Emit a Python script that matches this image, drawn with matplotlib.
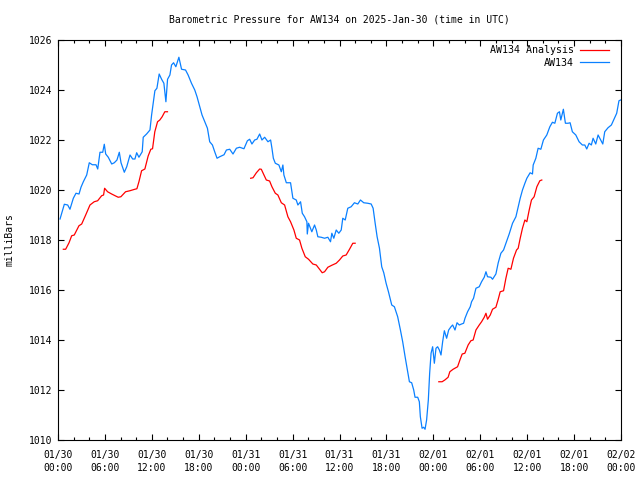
import numpy as np
import matplotlib
matplotlib.use("Agg")
import matplotlib.pyplot as plt
from matplotlib.ticker import MultipleLocator

# hours since 2025-01-30 00:00 UTC, pressure in mbar
aw_hours = [0.26, 0.81, 1.24, 1.53, 1.96, 2.30, 2.69, 2.94, 3.24, 3.67, 4.00, 4.39, 4.86, 5.08,
            5.37, 5.72, 5.92, 6.10, 6.43, 6.87, 7.20, 7.54, 7.84, 8.06, 8.48, 8.79, 9.21, 9.55,
            9.84, 10.06, 10.35, 10.77, 10.90, 11.33, 11.76, 11.97, 12.39, 12.65, 12.94, 13.25,
            13.54, 13.80, 14.01, 14.31, 14.52, 14.78, 15.07, 15.46, 15.80, 16.31, 16.64, 17.07,
            17.49, 17.78, 18.13, 18.42, 18.77, 19.11, 19.40, 19.75, 20.04, 20.34, 20.68, 21.23,
            21.54, 21.96, 22.38, 22.81, 23.23, 23.78, 24.22, 24.51, 24.80, 25.15, 25.44, 25.79,
            26.08, 26.43, 26.85, 27.19, 27.36, 27.54, 27.79, 28.25, 28.56, 28.76, 28.89, 29.20,
            29.74, 30.04, 30.47, 30.68, 31.02, 31.24, 31.53, 31.83, 31.88, 32.04, 32.46, 32.81,
            33.03, 33.23, 33.66, 34.09, 34.51, 34.85, 35.02, 35.27, 35.58, 35.91, 36.22, 36.42,
            36.73, 37.06, 37.49, 37.91, 38.34, 38.68, 39.10, 39.61, 40.05, 40.30, 40.56, 40.81,
            41.11, 41.40, 41.66, 41.96, 42.26, 42.68, 43.02, 43.44, 43.79, 44.08, 44.39, 44.72,
            44.94, 45.23, 45.49, 45.66, 46.00, 46.21, 46.34, 46.56, 46.76, 46.94, 47.14, 47.36,
            47.53, 47.71, 47.91, 48.13, 48.34, 48.55, 48.77, 48.98, 49.19, 49.41, 49.70, 49.96,
            50.26, 50.47, 50.77, 51.03, 51.32, 51.61, 51.87, 52.05, 52.38, 52.72, 52.89, 53.14,
            53.45, 53.87, 54.17, 54.51, 54.73, 54.93, 55.36, 55.57, 56.00, 56.30, 56.64, 56.98,
            57.28, 57.70, 58.13, 58.56, 58.85, 59.11, 59.40, 59.71, 59.96, 60.38, 60.68, 60.77,
            61.11, 61.40, 61.75, 62.08, 62.51, 62.90, 63.23, 63.54, 63.87, 64.13, 64.30, 64.63,
            64.89, 65.23, 65.49, 65.78, 66.22, 66.64, 67.06, 67.37, 67.62, 67.92, 68.21, 68.43,
            68.77, 69.07, 69.41, 69.67, 69.92, 70.34, 70.77, 71.11, 71.45, 71.74, 71.96]
aw_press = [1018.84, 1019.43, 1019.40, 1019.23, 1019.67, 1019.87, 1019.84, 1020.11, 1020.33,
            1020.60, 1021.09, 1021.01, 1021.01, 1020.84, 1021.51, 1021.51, 1021.83, 1021.44,
            1021.31, 1021.04, 1021.09, 1021.20, 1021.51, 1021.09, 1020.71, 1020.93, 1021.40,
            1021.24, 1021.24, 1021.49, 1021.31, 1021.53, 1022.11, 1022.24, 1022.40, 1023.00,
            1023.97, 1024.07, 1024.64, 1024.43, 1024.27, 1023.53, 1024.43, 1024.60, 1025.00,
            1025.09, 1024.93, 1025.31, 1024.83, 1024.80, 1024.60, 1024.27, 1024.00, 1023.73,
            1023.33, 1023.00, 1022.73, 1022.47, 1021.93, 1021.80, 1021.53, 1021.27, 1021.33,
            1021.41, 1021.60, 1021.63, 1021.44, 1021.67, 1021.71, 1021.65, 1021.97, 1022.03,
            1021.84, 1022.00, 1022.03, 1022.24, 1022.00, 1022.11, 1021.93, 1022.00, 1021.67,
            1021.27, 1021.07, 1021.00, 1020.73, 1021.00, 1020.60, 1020.29, 1020.29, 1019.67,
            1019.60, 1019.40, 1019.53, 1019.07, 1018.93, 1018.73, 1018.24, 1018.67, 1018.33,
            1018.60, 1018.40, 1018.13, 1018.11, 1018.07, 1018.11, 1017.93, 1018.27, 1018.07,
            1018.40, 1018.27, 1018.40, 1018.87, 1018.80, 1019.27, 1019.33, 1019.49, 1019.44,
            1019.60, 1019.49, 1019.47, 1019.44, 1019.27, 1018.67, 1018.13, 1017.67, 1016.93,
            1016.69, 1016.27, 1015.93, 1015.40, 1015.33, 1014.93, 1014.40, 1013.93, 1013.33,
            1012.73, 1012.33, 1012.29, 1012.00, 1011.71, 1011.71, 1011.53, 1010.93, 1010.47,
            1010.51, 1010.43, 1010.80, 1011.60, 1012.67, 1013.47, 1013.73, 1013.07, 1013.67,
            1013.73, 1013.60, 1013.40, 1013.93, 1014.37, 1014.07, 1014.40, 1014.53, 1014.60,
            1014.40, 1014.69, 1014.60, 1014.64, 1014.67, 1014.87, 1015.13, 1015.33, 1015.53,
            1015.67, 1016.07, 1016.13, 1016.33, 1016.51, 1016.73, 1016.53, 1016.51, 1016.43,
            1016.64, 1017.09, 1017.47, 1017.60, 1017.87, 1018.24, 1018.67, 1018.93, 1019.33,
            1019.67, 1020.00, 1020.27, 1020.47, 1020.69, 1020.64, 1021.00, 1021.27, 1021.67,
            1021.63, 1022.00, 1022.20, 1022.53, 1022.71, 1022.67, 1023.07, 1023.13, 1022.80,
            1023.23, 1022.67, 1022.67, 1022.69, 1022.33, 1022.20, 1021.93, 1021.80, 1021.80,
            1021.64, 1021.87, 1021.80, 1022.07, 1021.84, 1022.20, 1022.00, 1021.84, 1022.33,
            1022.49, 1022.60, 1022.83, 1023.07, 1023.57, 1023.60]

# analysis runs (three separate pieces)
an1_hours = [0.68, 0.98, 1.41, 1.75, 2.08, 2.68, 3.03, 3.54, 4.09, 4.63, 5.07, 5.58, 5.83, 5.96,
             6.34, 6.86, 7.37, 7.70, 8.04, 8.64, 9.19, 9.83, 10.09, 10.35, 10.69, 11.11, 11.53,
             11.87, 12.09, 12.38, 12.73, 13.02, 13.32, 13.66, 14.00]
an1_press = [1017.63, 1017.63, 1017.89, 1018.17, 1018.20, 1018.57, 1018.64, 1019.00, 1019.40,
             1019.53, 1019.57, 1019.77, 1019.80, 1020.07, 1019.93, 1019.84, 1019.76, 1019.71,
             1019.73, 1019.93, 1019.97, 1020.03, 1020.05, 1020.33, 1020.77, 1020.84, 1021.36,
             1021.63, 1021.65, 1022.33, 1022.73, 1022.80, 1022.93, 1023.13, 1023.13]
an2_hours = [24.64, 24.94, 25.37, 25.79, 26.00, 26.34, 26.64, 27.06, 27.36, 27.79, 28.12, 28.56,
             28.98, 29.40, 29.74, 30.17, 30.47, 30.89, 31.19, 31.62, 32.04, 32.59, 33.03, 33.45,
             33.79, 34.09, 34.51, 35.02, 35.58, 36.00, 36.42, 36.85, 37.28, 37.70, 38.00]
an2_press = [1020.47, 1020.49, 1020.69, 1020.84, 1020.83, 1020.60, 1020.40, 1020.36, 1020.13,
             1019.87, 1019.80, 1019.49, 1019.40, 1018.93, 1018.73, 1018.40, 1018.07, 1018.00,
             1017.67, 1017.33, 1017.23, 1017.04, 1017.00, 1016.83, 1016.69, 1016.73, 1016.91,
             1016.99, 1017.07, 1017.20, 1017.36, 1017.40, 1017.63, 1017.87, 1017.87]
an3_hours = [48.70, 49.12, 49.47, 49.89, 50.11, 50.53, 51.10, 51.40, 51.69, 52.03, 52.45, 52.80,
             53.09, 53.45, 53.87, 54.17, 54.51, 54.73, 54.93, 55.28, 55.57, 56.00, 56.30, 56.55,
             56.98, 57.28, 57.57, 57.92, 58.25, 58.64, 58.85, 59.11, 59.40, 59.71, 59.96, 60.26,
             60.55, 60.89, 61.24, 61.62, 61.87]
an3_press = [1012.33, 1012.33, 1012.40, 1012.51, 1012.73, 1012.83, 1012.93, 1013.20, 1013.44,
             1013.47, 1013.80, 1013.97, 1014.00, 1014.40, 1014.60, 1014.73, 1014.91, 1015.07,
             1014.83, 1015.00, 1015.23, 1015.31, 1015.63, 1015.93, 1015.97, 1016.47, 1016.87,
             1016.83, 1017.27, 1017.60, 1017.67, 1018.07, 1018.47, 1018.80, 1018.73, 1019.20,
             1019.60, 1019.73, 1020.13, 1020.37, 1020.40]

tick_hours = [0, 6, 12, 18, 24, 30, 36, 42, 48, 54, 60, 66, 72]
tick_labels = ["01/30\n00:00", "01/30\n06:00", "01/30\n12:00", "01/30\n18:00",
               "01/31\n00:00", "01/31\n06:00", "01/31\n12:00", "01/31\n18:00",
               "02/01\n00:00", "02/01\n06:00", "02/01\n12:00", "02/01\n18:00",
               "02/02\n00:00"]

plt.rcParams['font.family'] = ['DejaVu Sans Mono']
plt.rcParams['font.size'] = 7

fig = plt.figure(figsize=(6.4, 4.8), dpi=100)
ax = fig.add_axes([58/640, 40/480, 563/640, 400/480])

red = '#ff0000'
blue = '#0a80ff'
segs = [(an1_hours, an1_press), (an2_hours, an2_press), (an3_hours, an3_press)]
for i, (h, p) in enumerate(segs):
    ax.plot(h, p, color=red, lw=0.9, label="AW134 Analysis" if i == 0 else None)
ax.plot(aw_hours, aw_press, color=blue, lw=0.9, label="AW134")

ax.set_xlim(0, 72)
ax.set_ylim(1010, 1026)
ax.set_xticks(tick_hours)
ax.set_xticklabels(tick_labels, linespacing=1.45)
ax.xaxis.set_minor_locator(MultipleLocator(2))
ax.set_yticks(np.arange(1010, 1027, 2))

ax.tick_params(which='both', direction='in', top=True, right=True, width=0.8, color='black')
ax.tick_params(which='major', length=4.5)
ax.tick_params(which='minor', length=2.2)
ax.tick_params(axis='x', pad=7)
ax.tick_params(axis='y', pad=4)
for s in ax.spines.values():
    s.set_linewidth(0.8)

leg = ax.legend(loc='upper right', bbox_to_anchor=(1 - 5/563, 1 + 2/400), frameon=False,
                markerfirst=False, handlelength=2.9, handletextpad=0.6, labelspacing=0.25,
                borderaxespad=0.3, fontsize=7.2)

fig.text(339.5/640, 1 - 19/480, "Barometric Pressure for AW134 on 2025-Jan-30 (time in UTC)",
         ha='center', va='center', fontsize=7)
fig.text(10/640, 0.5, "milliBars", rotation=90, ha='center', va='center', fontsize=7)

fig.savefig("out.png", dpi=100)
